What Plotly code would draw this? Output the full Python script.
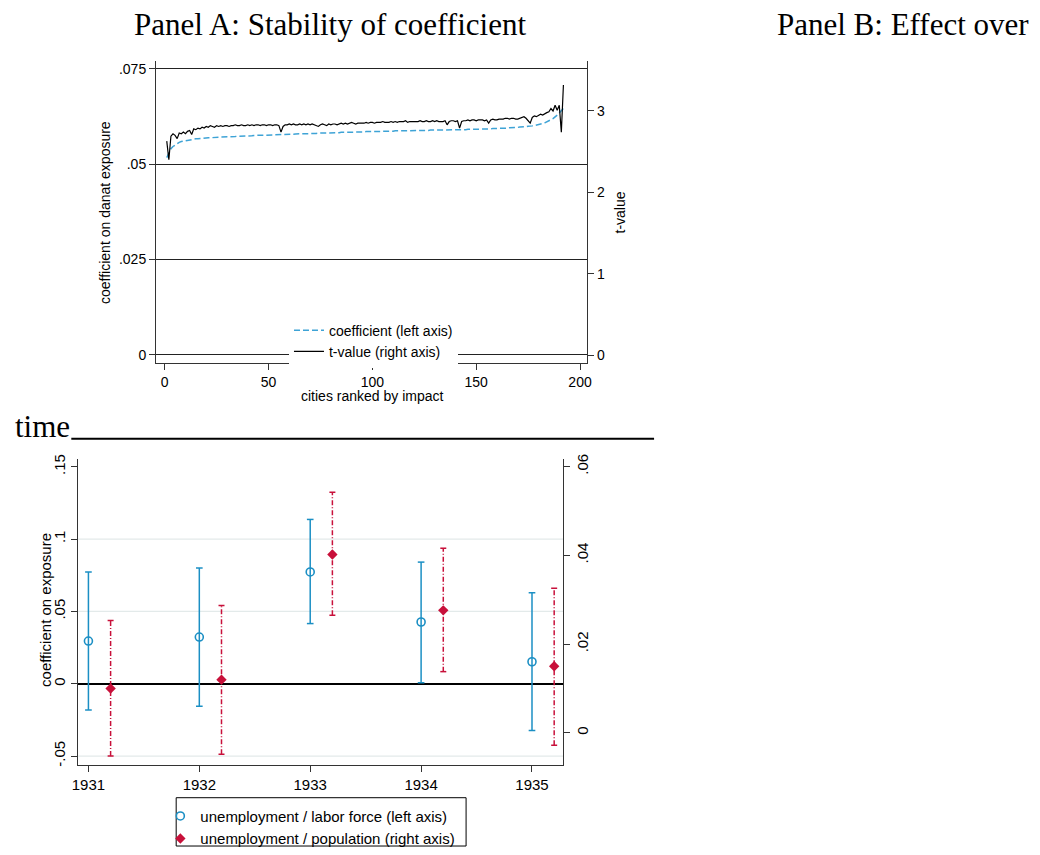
import plotly.graph_objects as go

# ---------------- data ----------------
RANK = list(range(1, 193))
COEF = [
    .0517, .0530, .0540, .0546, .0550, .0554, .0557, .0559, .0560, .0562,
    .0563, .0564, .0565, .0565, .0566, .0566, .0567, .0567, .0568, .0568,
    .0569, .0569, .0569, .0570, .0570, .0570, .0571, .0571, .0571, .0571,
    .0572, .0572, .0572, .0572, .0573, .0573, .0573, .0573, .0574, .0574,
    .0574, .0574, .0575, .0575, .0575, .0575, .0575, .0576, .0576, .0576,
    .0576, .0576, .0577, .0577, .0577, .0577, .0577, .0578, .0578, .0578,
    .0578, .0578, .0579, .0579, .0579, .0579, .0579, .0580, .0580, .0580,
    .0580, .0580, .0580, .0581, .0581, .0581, .0581, .0581, .0582, .0582,
    .0582, .0582, .0582, .0582, .0583, .0583, .0583, .0583, .0583, .0583,
    .0584, .0584, .0584, .0584, .0584, .0584, .0585, .0585, .0585, .0585,
    .0585, .0585, .0585, .0586, .0586, .0586, .0586, .0586, .0586, .0586,
    .0587, .0587, .0587, .0587, .0587, .0587, .0587, .0587, .0588, .0588,
    .0588, .0588, .0588, .0588, .0588, .0588, .0588, .0589, .0589, .0589,
    .0589, .0589, .0589, .0589, .0589, .0589, .0589, .0590, .0590, .0590,
    .0590, .0590, .0590, .0590, .0590, .0591, .0591, .0591, .0591, .0591,
    .0591, .0591, .0592, .0592, .0592, .0592, .0592, .0593, .0593, .0593,
    .0593, .0594, .0594, .0594, .0594, .0595, .0595, .0595, .0596, .0596,
    .0597, .0597, .0598, .0598, .0599, .0599, .0600, .0601, .0602, .0603,
    .0604, .0606, .0608, .0610, .0613, .0616, .0619, .0623, .0628, .0634,
    .0640, .0646,
]
TVAL = [
    2.63, 2.40, 2.69, 2.72, 2.70, 2.66, 2.73, 2.72, 2.74, 2.72,
    2.75, 2.76, 2.71, 2.78, 2.77, 2.79, 2.78, 2.80, 2.79, 2.81,
    2.80, 2.82, 2.81, 2.80, 2.82, 2.81, 2.82, 2.81, 2.82, 2.82,
    2.81, 2.82, 2.82, 2.83, 2.82, 2.82, 2.83, 2.82, 2.82, 2.83,
    2.82, 2.83, 2.82, 2.83, 2.83, 2.82, 2.83, 2.83, 2.82, 2.83,
    2.83, 2.82, 2.83, 2.83, 2.82, 2.74, 2.81, 2.83, 2.83, 2.84,
    2.83, 2.84, 2.83, 2.83, 2.84, 2.83, 2.84, 2.83, 2.84, 2.83,
    2.84, 2.83, 2.82, 2.81, 2.83, 2.84, 2.83, 2.82, 2.84, 2.83,
    2.84, 2.84, 2.83, 2.84, 2.85, 2.84, 2.85, 2.84, 2.85, 2.86,
    2.85, 2.84, 2.85, 2.85, 2.85, 2.85, 2.86, 2.85, 2.86, 2.86,
    2.85, 2.86, 2.86, 2.86, 2.87, 2.86, 2.86, 2.86, 2.87, 2.86,
    2.87, 2.86, 2.87, 2.87, 2.87, 2.88, 2.86, 2.87, 2.87, 2.87,
    2.87, 2.87, 2.88, 2.87, 2.87, 2.88, 2.87, 2.87, 2.88, 2.87,
    2.88, 2.87, 2.87, 2.87, 2.88, 2.83, 2.87, 2.88, 2.88, 2.87,
    2.88, 2.79, 2.87, 2.88, 2.88, 2.89, 2.88, 2.89, 2.89, 2.88,
    2.89, 2.89, 2.89, 2.88, 2.89, 2.85, 2.89, 2.90, 2.89, 2.89,
    2.90, 2.90, 2.90, 2.91, 2.91, 2.90, 2.91, 2.91, 2.90, 2.90,
    2.91, 2.92, 2.93, 2.91, 2.88, 2.85, 2.92, 2.94, 2.93, 2.95,
    2.96, 2.95, 2.97, 2.98, 2.99, 3.03, 3.00, 3.07, 3.01, 3.07,
    2.74, 3.32,
]
TOP_X_TICKS = [0, 50, 100, 150, 200]
TOP_Y_TICKS = [0, .025, .05, .075]
TOP_Y_TEXT = ["0", ".025", ".05", ".075"]
TOP_Y2_TICKS = [0, 1, 2, 3]

YEARS = [1931, 1932, 1933, 1934, 1935]
LF_COEF = [0.0295, 0.0323, 0.0773, 0.0427, 0.0152]
LF_LO = [-0.0182, -0.0155, 0.0416, 0.0007, -0.0323]
LF_HI = [0.0773, 0.0800, 0.1136, 0.0841, 0.0629]
POP_COEF = [0.0100, 0.0120, 0.0402, 0.0276, 0.0150]
POP_LO = [-0.0052, -0.0048, 0.0265, 0.0138, -0.0028]
POP_HI = [0.0253, 0.0287, 0.0542, 0.0416, 0.0326]
BOT_Y_TICKS = [-.05, 0, .05, .1, .15]
BOT_Y_TEXT = ["-.05", "0", ".05", ".1", ".15"]
BOT_Y2_TICKS = [0, .02, .04, .06]
BOT_Y2_TEXT = ["0", ".02", ".04", ".06"]
BOT_GRID = [-.05, .05, .1]

# ---------------- style ----------------
W, H = 1040, 855
BLUE = "#1b8fc4"
BLUE_LIGHT = "#3ea3d6"
RED = "#c8103a"
POP_SHIFT = 0.2
CAP = 0.03
SANS = "Liberation Sans, Arial, sans-serif"
SERIF = "Liberation Serif, Times New Roman, serif"


def fx(p):
    return p / W


def fy(p):
    return 1 - p / H


def segments(xs, lo, hi):
    sx, sy = [], []
    for x, a, b in zip(xs, lo, hi):
        sx += [x, x, None]
        sy += [a, b, None]
    return sx, sy


def caps(xs, lo, hi, w):
    sx, sy = [], []
    for x, a, b in zip(xs, lo, hi):
        sx += [x - w, x + w, None, x - w, x + w, None]
        sy += [a, a, None, b, b, None]
    return sx, sy


fig = go.Figure()

# ---- Panel A ----
fig.add_trace(go.Scatter(
    x=RANK, y=COEF, mode="lines", name="coefficient (left axis)",
    line=dict(color=BLUE_LIGHT, width=1.5, dash="6px,3px"),
    xaxis="x", yaxis="y", legend="legend"))
fig.add_trace(go.Scatter(
    x=RANK, y=TVAL, mode="lines", name="t-value (right axis)",
    line=dict(color="black", width=1.2),
    xaxis="x", yaxis="y2", legend="legend"))

# ---- Panel B ----
pop_x = [y + POP_SHIFT for y in YEARS]
bx, by = segments(YEARS, LF_LO, LF_HI)
fig.add_trace(go.Scatter(x=bx, y=by, mode="lines", showlegend=False,
                         line=dict(color=BLUE, width=1.5),
                         xaxis="x2", yaxis="y3", hoverinfo="skip"))
cx, cy = caps(YEARS, LF_LO, LF_HI, CAP)
fig.add_trace(go.Scatter(x=cx, y=cy, mode="lines", showlegend=False,
                         line=dict(color=BLUE, width=1.5),
                         xaxis="x2", yaxis="y3", hoverinfo="skip"))
rx, ry = segments(pop_x, POP_LO, POP_HI)
fig.add_trace(go.Scatter(x=rx, y=ry, mode="lines", showlegend=False,
                         line=dict(color=RED, width=1.5, dash="5px,2px,1px,2px"),
                         xaxis="x2", yaxis="y4", hoverinfo="skip"))
rcx, rcy = caps(pop_x, POP_LO, POP_HI, CAP * 0.9)
fig.add_trace(go.Scatter(x=rcx, y=rcy, mode="lines", showlegend=False,
                         line=dict(color=RED, width=1.5),
                         xaxis="x2", yaxis="y4", hoverinfo="skip"))
fig.add_trace(go.Scatter(
    x=YEARS, y=LF_COEF, mode="markers",
    name="unemployment / labor force (left axis)",
    marker=dict(symbol="circle-open", size=8, color=BLUE, line=dict(width=1.6, color=BLUE)),
    xaxis="x2", yaxis="y3", legend="legend2"))
fig.add_trace(go.Scatter(
    x=pop_x, y=POP_COEF, mode="markers",
    name="unemployment / population (right axis)",
    marker=dict(symbol="diamond", size=8, color=RED),
    xaxis="x2", yaxis="y4", legend="legend2"))

axis_common = dict(ticks="outside", ticklen=6, tickwidth=1, tickcolor="#333",
                   showline=True, linecolor="#333", linewidth=1.2,
                   zeroline=False, showgrid=False,
                   tickfont=dict(family=SANS, size=14, color="black"))
bot_font = dict(family=SANS, size=15, color="black")

fig.update_layout(
    width=W, height=H, margin=dict(l=0, r=0, t=0, b=0),
    paper_bgcolor="white", plot_bgcolor="white",
    font=dict(family=SANS, size=14, color="black"),
    xaxis=dict(domain=[fx(151.7), fx(587.3)], anchor="y", range=[-4.14, 203.4],
               tickmode="array", tickvals=TOP_X_TICKS, **axis_common),
    yaxis=dict(domain=[fy(362.7), fy(57)], anchor="x", range=[-0.002, 0.07694],
               tickmode="array", tickvals=TOP_Y_TICKS, ticktext=TOP_Y_TEXT,
               **{**axis_common, "showgrid": True}, gridcolor="#222", gridwidth=1),
    yaxis2=dict(overlaying="y", side="right", anchor="x", range=[-0.0933, 3.612],
                tickmode="array", tickvals=TOP_Y2_TICKS, **axis_common),
    xaxis2=dict(domain=[fx(73), fx(563)], anchor="y3", range=[1930.908, 1935.28],
                tickmode="array", tickvals=YEARS, **{**axis_common, "tickfont": bot_font}),
    yaxis3=dict(domain=[fy(771), fy(460)], anchor="x2", range=[-0.0563, 0.1557],
                tickmode="array", tickvals=BOT_Y_TICKS, ticktext=BOT_Y_TEXT, tickangle=-90,
                **{**axis_common, "zeroline": True, "tickfont": bot_font},
                zerolinecolor="black", zerolinewidth=1.5),
    yaxis4=dict(overlaying="y3", side="right", anchor="x2", range=[-0.00727, 0.0618],
                tickmode="array", tickvals=BOT_Y2_TICKS, ticktext=BOT_Y2_TEXT, tickangle=-90,
                **{**axis_common, "tickfont": bot_font}),
    legend=dict(x=fx(286), y=fy(314), xanchor="left", yanchor="top",
                bgcolor="white", borderwidth=0, font=dict(family=SANS, size=14, color="black"),
                itemwidth=30),
    legend2=dict(x=fx(156), y=fy(806), xanchor="left", yanchor="top",
                 bgcolor="rgba(0,0,0,0)", borderwidth=0, font=bot_font, itemwidth=30),
)

shapes = []
for g in BOT_GRID:
    shapes.append(dict(type="line", xref="x2 domain", yref="y3", x0=0, x1=1, y0=g, y1=g,
                       line=dict(color="#e3eaea", width=1.2), layer="below"))
shapes.append(dict(type="rect", xref="paper", yref="paper",
                   x0=fx(172), x1=fx(465), y0=fy(853), y1=fy(804),
                   line=dict(color="black", width=1), fillcolor="rgba(0,0,0,0)"))
shapes.append(dict(type="line", xref="paper", yref="paper",
                   x0=fx(66), x1=fx(655), y0=fy(440), y1=fy(440),
                   line=dict(color="black", width=2)))
fig.update_layout(shapes=shapes)


def label(text, x, y, size=14, angle=0, family=SANS):
    return dict(text=text, x=fx(x), y=fy(y), xref="paper", yref="paper",
                xanchor="center", yanchor="middle", textangle=angle, showarrow=False,
                font=dict(family=family, size=size, color="black"))


annotations = [
    dict(text="Panel A: Stability of coefficient", x=fx(127), y=fy(20), xref="paper", yref="paper",
         xanchor="left", yanchor="middle", showarrow=False,
         font=dict(family=SERIF, size=31, color="black")),
    dict(text="Panel B: Effect over", x=fx(777), y=fy(20), xref="paper", yref="paper",
         xanchor="left", yanchor="middle", showarrow=False,
         font=dict(family=SERIF, size=31, color="black")),
    dict(text="time", x=fx(7), y=fy(428), xref="paper", yref="paper",
         xanchor="left", yanchor="middle", showarrow=False,
         font=dict(family=SERIF, size=31, color="black")),
    label("coefficient on danat exposure", 100, 210, 14, -90),
    label("t-value", 621, 210, 14, -90),
    label("cities ranked by impact", 370, 397, 14),
    label("coefficient on exposure", 40, 614, 15, -90),
]
fig.update_layout(annotations=annotations)

fig.write_html("out.html")
